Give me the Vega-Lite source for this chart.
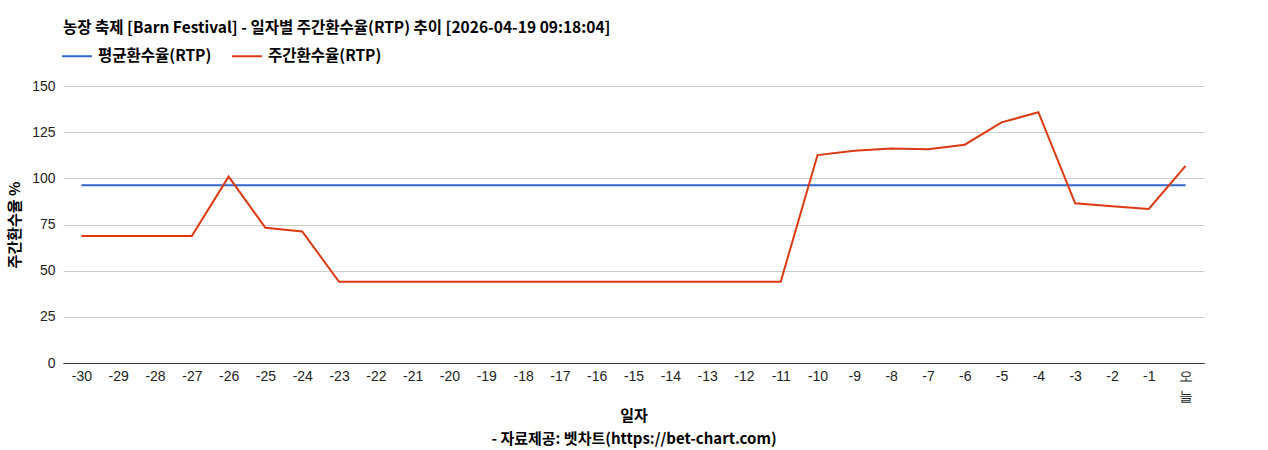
{
  "$schema": "https://vega.github.io/schema/vega-lite/v6.json",
  "width": 1141,
  "height": 277,
  "autosize": "none",
  "padding": {"left": 63, "top": 86, "right": 64, "bottom": 87},
  "background": "white",
  "title": {
    "text": "농장 축제 [Barn Festival] - 일자별 주간환수율(RTP) 추이 [2026-04-19 09:18:04]",
    "anchor": "start",
    "frame": "group",
    "font": "Noto Sans CJK KR",
    "fontSize": 15.5,
    "fontWeight": "bold",
    "color": "#000000",
    "offset": 4
  },
  "data": {
    "values": [
      {"day": "-30", "series": "평균환수율(RTP)", "rtp": 96.3},
      {"day": "-29", "series": "평균환수율(RTP)", "rtp": 96.3},
      {"day": "-28", "series": "평균환수율(RTP)", "rtp": 96.3},
      {"day": "-27", "series": "평균환수율(RTP)", "rtp": 96.3},
      {"day": "-26", "series": "평균환수율(RTP)", "rtp": 96.3},
      {"day": "-25", "series": "평균환수율(RTP)", "rtp": 96.3},
      {"day": "-24", "series": "평균환수율(RTP)", "rtp": 96.3},
      {"day": "-23", "series": "평균환수율(RTP)", "rtp": 96.3},
      {"day": "-22", "series": "평균환수율(RTP)", "rtp": 96.3},
      {"day": "-21", "series": "평균환수율(RTP)", "rtp": 96.3},
      {"day": "-20", "series": "평균환수율(RTP)", "rtp": 96.3},
      {"day": "-19", "series": "평균환수율(RTP)", "rtp": 96.3},
      {"day": "-18", "series": "평균환수율(RTP)", "rtp": 96.3},
      {"day": "-17", "series": "평균환수율(RTP)", "rtp": 96.3},
      {"day": "-16", "series": "평균환수율(RTP)", "rtp": 96.3},
      {"day": "-15", "series": "평균환수율(RTP)", "rtp": 96.3},
      {"day": "-14", "series": "평균환수율(RTP)", "rtp": 96.3},
      {"day": "-13", "series": "평균환수율(RTP)", "rtp": 96.3},
      {"day": "-12", "series": "평균환수율(RTP)", "rtp": 96.3},
      {"day": "-11", "series": "평균환수율(RTP)", "rtp": 96.3},
      {"day": "-10", "series": "평균환수율(RTP)", "rtp": 96.3},
      {"day": "-9", "series": "평균환수율(RTP)", "rtp": 96.3},
      {"day": "-8", "series": "평균환수율(RTP)", "rtp": 96.3},
      {"day": "-7", "series": "평균환수율(RTP)", "rtp": 96.3},
      {"day": "-6", "series": "평균환수율(RTP)", "rtp": 96.3},
      {"day": "-5", "series": "평균환수율(RTP)", "rtp": 96.3},
      {"day": "-4", "series": "평균환수율(RTP)", "rtp": 96.3},
      {"day": "-3", "series": "평균환수율(RTP)", "rtp": 96.3},
      {"day": "-2", "series": "평균환수율(RTP)", "rtp": 96.3},
      {"day": "-1", "series": "평균환수율(RTP)", "rtp": 96.3},
      {"day": "오늘", "series": "평균환수율(RTP)", "rtp": 96.3},
      {"day": "-30", "series": "주간환수율(RTP)", "rtp": 68.8},
      {"day": "-29", "series": "주간환수율(RTP)", "rtp": 68.8},
      {"day": "-28", "series": "주간환수율(RTP)", "rtp": 68.8},
      {"day": "-27", "series": "주간환수율(RTP)", "rtp": 68.8},
      {"day": "-26", "series": "주간환수율(RTP)", "rtp": 100.9},
      {"day": "-25", "series": "주간환수율(RTP)", "rtp": 73.2},
      {"day": "-24", "series": "주간환수율(RTP)", "rtp": 71.2},
      {"day": "-23", "series": "주간환수율(RTP)", "rtp": 44.0},
      {"day": "-22", "series": "주간환수율(RTP)", "rtp": 44.0},
      {"day": "-21", "series": "주간환수율(RTP)", "rtp": 44.0},
      {"day": "-20", "series": "주간환수율(RTP)", "rtp": 44.0},
      {"day": "-19", "series": "주간환수율(RTP)", "rtp": 44.0},
      {"day": "-18", "series": "주간환수율(RTP)", "rtp": 44.0},
      {"day": "-17", "series": "주간환수율(RTP)", "rtp": 44.0},
      {"day": "-16", "series": "주간환수율(RTP)", "rtp": 44.0},
      {"day": "-15", "series": "주간환수율(RTP)", "rtp": 44.0},
      {"day": "-14", "series": "주간환수율(RTP)", "rtp": 44.0},
      {"day": "-13", "series": "주간환수율(RTP)", "rtp": 44.0},
      {"day": "-12", "series": "주간환수율(RTP)", "rtp": 44.0},
      {"day": "-11", "series": "주간환수율(RTP)", "rtp": 44.0},
      {"day": "-10", "series": "주간환수율(RTP)", "rtp": 112.6},
      {"day": "-9", "series": "주간환수율(RTP)", "rtp": 115.0},
      {"day": "-8", "series": "주간환수율(RTP)", "rtp": 116.1},
      {"day": "-7", "series": "주간환수율(RTP)", "rtp": 115.7},
      {"day": "-6", "series": "주간환수율(RTP)", "rtp": 118.2},
      {"day": "-5", "series": "주간환수율(RTP)", "rtp": 130.3},
      {"day": "-4", "series": "주간환수율(RTP)", "rtp": 135.8},
      {"day": "-3", "series": "주간환수율(RTP)", "rtp": 86.5},
      {"day": "-2", "series": "주간환수율(RTP)", "rtp": 84.9},
      {"day": "-1", "series": "주간환수율(RTP)", "rtp": 83.4},
      {"day": "오늘", "series": "주간환수율(RTP)", "rtp": 106.8}
    ]
  },
  "mark": {"type": "line", "strokeWidth": 2},
  "encoding": {
    "x": {
      "field": "day",
      "type": "ordinal",
      "sort": null,
      "scale": {"type": "point", "padding": 0.5},
      "axis": {
        "title": ["일자", "- 자료제공: 벳차트(https://bet-chart.com)"],
        "titleFont": "Noto Sans CJK KR",
        "titleFontSize": 15,
        "titleFontWeight": "bold",
        "titleColor": "#000000",
        "titleLineHeight": 23,
        "titlePadding": 5,
        "labelAngle": 0,
        "labelFont": "Liberation Sans",
        "labelFontSize": 14,
        "labelColor": "#222222",
        "labelPadding": 6,
        "labelLineHeight": 20,
        "labelExpr": "datum.value == '오늘' ? ['오', '늘'] : datum.value",
        "ticks": false,
        "domainColor": "#333333",
        "domainWidth": 1,
        "grid": false
      }
    },
    "y": {
      "field": "rtp",
      "type": "quantitative",
      "scale": {"domain": [0, 150], "nice": false},
      "axis": {
        "title": "주간환수율 %",
        "titleFont": "Noto Sans CJK KR",
        "titleFontSize": 15,
        "titleFontWeight": "bold",
        "titleColor": "#000000",
        "titlePadding": 9,
        "values": [0, 25, 50, 75, 100, 125, 150],
        "labelFont": "Liberation Sans",
        "labelFontSize": 14,
        "labelColor": "#222222",
        "labelPadding": 8,
        "ticks": false,
        "domain": false,
        "gridColor": "#cccccc"
      }
    },
    "color": {
      "field": "series",
      "type": "nominal",
      "scale": {
        "domain": ["평균환수율(RTP)", "주간환수율(RTP)"],
        "range": ["#3366cc", "#dc3912"]
      },
      "legend": {
        "title": null,
        "orient": "none",
        "direction": "horizontal",
        "legendX": -2,
        "legendY": -46,
        "symbolType": "stroke",
        "symbolSize": 900,
        "symbolStrokeWidth": 2,
        "labelFont": "Noto Sans CJK KR",
        "labelFontSize": 15.5,
        "labelFontWeight": "bold",
        "labelColor": "#000000",
        "columnPadding": 16,
        "labelOffset": 5
      }
    }
  },
  "config": {"view": {"stroke": null}}
}
